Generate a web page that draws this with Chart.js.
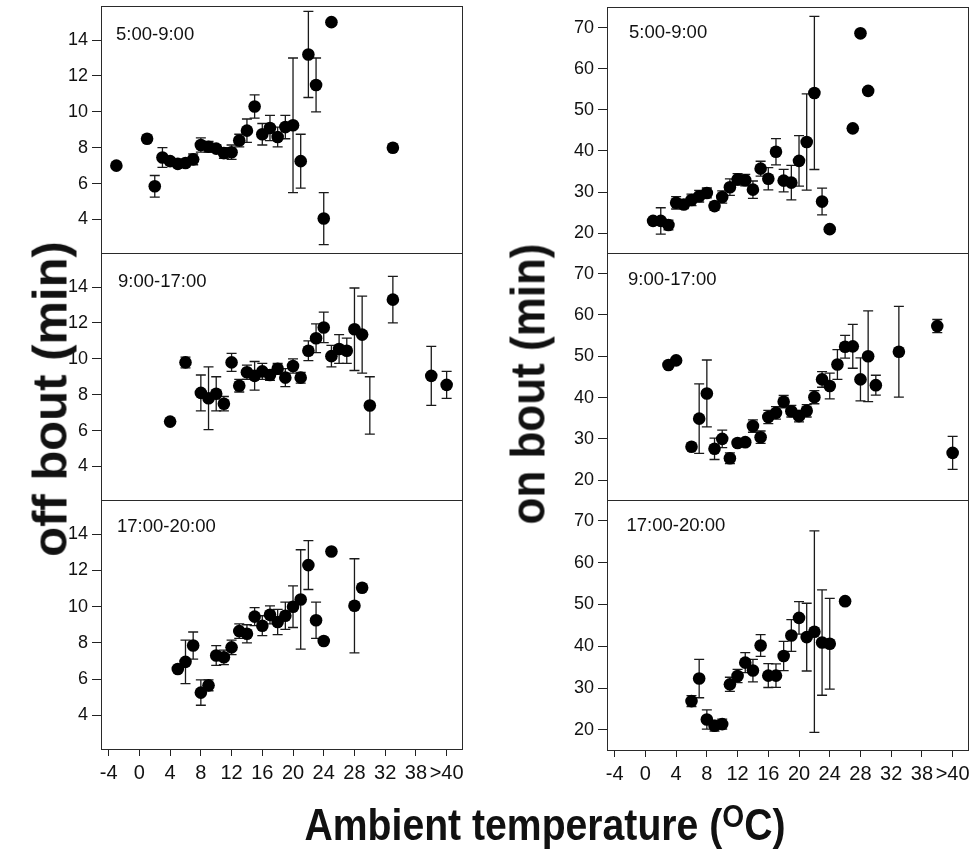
<!DOCTYPE html>
<html lang="en">
<head>
<meta charset="UTF-8">
<title>Off bout and on bout vs ambient temperature</title>
<style>
  body { margin: 0; background: #fff; }
  #wrap { position: relative; width: 979px; height: 854px; overflow: hidden; background: #fff; }
  canvas { position: absolute; }
  .ytitle {
    position: absolute;
    font-family: 'Liberation Sans', Arial, sans-serif;
    font-weight: bold;
    line-height: 1;
    white-space: nowrap;
    color: #111;
  }
  #offTitle { left: 50px; top: 399px; font-size: 49px; transform: translate(-50%, -50%) rotate(-90deg); }
  #onTitle { left: 528px; top: 384px; font-size: 44px; transform: translate(-50%, -50%) rotate(-90deg) scaleY(1.1); }
  #xTitle {
    position: absolute;
    left: 545px;
    top: 803px;
    transform: translateX(-50%) scaleX(0.89);
    font-family: 'Liberation Sans', Arial, sans-serif;
    font-weight: bold;
    font-size: 44px;
    line-height: 1;
    white-space: nowrap;
    color: #111;
  }
  #xTitle span { font-size: 0.72em; position: relative; top: -0.42em; }
</style>
</head>
<body>
<div id="wrap">
  <canvas id="offAM"></canvas>
  <canvas id="offMid"></canvas>
  <canvas id="offPM"></canvas>
  <canvas id="onAM"></canvas>
  <canvas id="onMid"></canvas>
  <canvas id="onPM"></canvas>
  <div id="offTitle" class="ytitle">off bout (min)</div>
  <div id="onTitle" class="ytitle">on bout (min)</div>
  <div id="xTitle">Ambient temperature (<span>O</span>C)</div>
</div>

<script src="https://cdn.jsdelivr.net/npm/chart.js@4.4.0/dist/chart.umd.min.js"></script>
<script>
// x axis: temperature positions and the labels printed under the ticks
const xTickValues = [-4, 0, 4, 8, 12, 16, 20, 24, 28, 32, 36, 40];
const xTickLabels = ['-4', '0', '4', '8', '12', '16', '20', '24', '28', '32', '38', '>40'];
const offTicks = [4, 6, 8, 10, 12, 14];
const onTicks = [20, 30, 40, 50, 60, 70];

// off bout, 5:00-9:00
const offAMTemp = [-3, 1, 2, 3, 4, 5, 6, 7, 8, 9, 10, 11, 12, 13, 14, 15, 16, 17, 18, 19, 20, 21, 22, 23, 24, 25, 33];
const offAMMean = [7.0, 8.5, 5.85, 7.45, 7.25, 7.1, 7.15, 7.35, 8.15, 8.05, 7.95, 7.7, 7.75, 8.4, 8.95, 10.3, 8.75, 9.1, 8.6, 9.15, 9.25, 7.25, 13.2, 11.5, 4.05, 15.0, 8.0];
const offAMErr  = [null, null, 0.6, 0.55, 0.2, 0.2, 0.2, 0.3, 0.4, 0.3, 0.2, 0.3, 0.4, 0.35, 0.65, 0.65, 0.6, 0.7, 0.55, 0.65, 3.75, 1.5, 2.4, 1.5, 1.45, null, null];

// off bout, 9:00-17:00
const offMidTemp = [4, 6, 8, 9, 10, 11, 12, 13, 14, 15, 16, 17, 18, 19, 20, 21, 22, 23, 24, 25, 26, 27, 28, 29, 30, 33, 38, 40];
const offMidMean = [6.5, 9.8, 8.1, 7.8, 8.05, 7.5, 9.8, 8.5, 9.25, 9.05, 9.3, 9.1, 9.45, 8.95, 9.6, 8.95, 10.45, 11.15, 11.75, 10.15, 10.55, 10.45, 11.65, 11.35, 7.4, 13.3, 9.05, 8.55];
const offMidErr  = [null, 0.3, 1.0, 1.75, 0.95, 0.4, 0.5, 0.35, 0.4, 0.8, 0.45, 0.3, 0.3, 0.5, 0.4, 0.3, 0.55, 0.8, 0.85, 0.6, 0.8, 0.7, 2.3, 2.15, 1.6, 1.3, 1.65, 0.75];

// off bout, 17:00-20:00
const offPMTemp = [5, 6, 7, 8, 9, 10, 11, 12, 13, 14, 15, 16, 17, 18, 19, 20, 21, 22, 23, 24, 25, 28, 29];
const offPMMean = [6.55, 6.95, 7.85, 5.25, 5.65, 7.3, 7.2, 7.75, 8.65, 8.5, 9.45, 8.95, 9.55, 9.15, 9.5, 10.0, 10.4, 12.3, 9.25, 8.1, 13.05, 10.05, 11.05];
const offPMErr  = [null, 1.2, 0.75, 0.7, 0.3, 0.55, 0.4, 0.4, 0.4, 0.5, 0.5, 0.55, 0.5, 0.7, 0.75, 1.15, 2.75, 1.35, 1.0, null, null, 2.6, null];

// on bout, 5:00-9:00
const onAMTemp = [1, 2, 3, 4, 5, 6, 7, 8, 9, 10, 11, 12, 13, 14, 15, 16, 17, 18, 19, 20, 21, 22, 23, 24, 27, 28, 29];
const onAMMean = [23.0, 23.0, 22.0, 27.4, 27.0, 28.1, 29.0, 29.8, 26.6, 28.8, 31.2, 33.1, 32.9, 30.6, 35.7, 33.25, 39.8, 32.8, 32.3, 37.6, 42.2, 54.1, 27.7, 21.0, 45.5, 68.6, 54.6];
const onAMErr  = [null, 3.2, 1.2, 1.5, 1.0, 1.4, 1.4, 1.2, 1.0, 1.5, 2.0, 1.4, 1.4, 2.1, 1.8, 2.7, 3.2, 2.75, 4.2, 6.15, 11.7, 18.6, 3.25, null, null, null, null];

// on bout, 9:00-17:00
const onMidTemp = [3, 4, 6, 7, 8, 9, 10, 11, 12, 13, 14, 15, 16, 17, 18, 19, 20, 21, 22, 23, 24, 25, 26, 27, 28, 29, 30, 33, 38, 40];
const onMidMean = [47.9, 49.0, 28.1, 34.9, 41.0, 27.6, 30.0, 25.3, 29.0, 29.2, 33.1, 30.4, 35.3, 36.3, 39.0, 36.7, 35.5, 36.8, 40.1, 44.4, 42.8, 48.0, 52.3, 52.4, 44.4, 50.0, 43.0, 51.1, 57.3, 26.6];
const onMidErr  = [null, null, null, 8.4, 8.1, 2.6, 2.1, 1.3, 0.8, 0.8, 1.5, 1.5, 1.6, 1.5, 1.5, 1.4, 1.4, 1.5, 1.6, 1.9, 3.1, 3.6, 2.75, 5.3, 5.2, 11.0, 2.4, 11.0, 1.6, 4.0];

// on bout, 17:00-20:00
const onPMTemp = [6, 7, 8, 9, 10, 11, 12, 13, 14, 15, 16, 17, 18, 19, 20, 21, 22, 23, 24, 26];
const onPMMean = [26.9, 32.3, 22.5, 21.0, 21.4, 30.9, 32.9, 36.1, 34.2, 40.2, 33.0, 33.0, 37.7, 42.6, 46.8, 42.2, 43.5, 40.9, 40.6, 50.8];
const onPMErr  = [1.3, 4.6, 2.3, 1.3, 1.2, 1.7, 1.6, 2.4, 2.7, 2.6, 2.85, 2.8, 3.5, 3.8, 3.9, 8.1, 24.1, 12.6, 10.85, null];

const PAD = 16, YW = 60, XH = 40;
const tickFont = "'Liberation Sans', Arial, sans-serif";

// vertical error bars, drawn under the dots
const errorBars = {
  id: 'errorBars',
  beforeDatasetsDraw(chart) {
    const ctx = chart.ctx, x = chart.scales.x, y = chart.scales.y;
    const ds = chart.data.datasets[0];
    ctx.save();
    ctx.strokeStyle = '#1a1a1a';
    ctx.lineWidth = 1.3;
    ds.data.forEach((p, i) => {
      const e = ds.errorValues[i];
      if (e == null) return;
      const px = x.getPixelForValue(p.x);
      const top = y.getPixelForValue(p.y + e);
      const bot = y.getPixelForValue(p.y - e);
      ctx.beginPath();
      ctx.moveTo(px, top); ctx.lineTo(px, bot);
      ctx.moveTo(px - 5, top); ctx.lineTo(px + 5, top);
      ctx.moveTo(px - 5, bot); ctx.lineTo(px + 5, bot);
      ctx.stroke();
    });
    ctx.restore();
  }
};

// box around the plot area + the time-of-day label
const panelFrame = {
  id: 'panelFrame',
  afterDraw(chart, args, opts) {
    const ctx = chart.ctx, a = chart.chartArea;
    ctx.save();
    ctx.strokeStyle = '#2a2a2a';
    ctx.lineWidth = 1;
    ctx.strokeRect(Math.round(a.left) + 0.5, Math.round(a.top) + 0.5,
                   Math.round(a.right - a.left), Math.round(a.bottom - a.top));
    ctx.fillStyle = '#111';
    ctx.font = "18.5px 'Liberation Sans', Arial, sans-serif";
    ctx.textBaseline = 'alphabetic';
    ctx.fillText(opts.text, a.left + opts.dx, a.top + opts.dy);
    ctx.restore();
  }
};

function makePanel(id, box, temps, means, errs, yTicks, yMin, yMax, label, dx, dy, showX) {
  const cv = document.getElementById(id);
  const w = YW + (box.r - box.l) + PAD;
  const h = PAD + (box.b - box.t) + PAD + (showX ? XH : 0);
  cv.width = w; cv.height = h;
  cv.style.left = (box.l - YW) + 'px';
  cv.style.top = (box.t - PAD) + 'px';
  cv.style.width = w + 'px';
  cv.style.height = h + 'px';

  return new Chart(cv, {
    type: 'scatter',
    data: {
      datasets: [{
        data: temps.map((t, i) => ({ x: t, y: means[i] })),
        errorValues: errs,
        backgroundColor: '#000',
        borderColor: '#000',
        borderWidth: 0,
        pointRadius: 6.3,
        clip: false
      }]
    },
    options: {
      responsive: false,
      maintainAspectRatio: false,
      animation: false,
      events: [],
      layout: { padding: { left: 0, top: PAD, right: PAD, bottom: PAD } },
      plugins: {
        legend: { display: false },
        tooltip: { enabled: false },
        panelFrame: { text: label, dx: dx, dy: dy }
      },
      scales: {
        x: {
          type: 'linear',
          min: -5, max: 42,
          display: showX,
          afterBuildTicks: s => { s.ticks = xTickValues.map(v => ({ value: v })); },
          afterFit: s => { s.height = showX ? XH : 0; },
          grid: { drawOnChartArea: false, drawTicks: true, tickLength: 7, color: '#222' },
          border: { display: false },
          ticks: {
            autoSkip: false, maxRotation: 0, padding: 5,
            color: '#111',
            font: { family: tickFont, size: 20 },
            callback: v => xTickLabels[xTickValues.indexOf(v)]
          }
        },
        y: {
          min: yMin, max: yMax,
          afterBuildTicks: s => { s.ticks = yTicks.map(v => ({ value: v })); },
          afterFit: s => { s.width = YW; },
          grid: { drawOnChartArea: false, drawTicks: true, tickLength: 9, color: '#222' },
          border: { display: false },
          ticks: { padding: 4, color: '#111', font: { family: tickFont, size: 18 } }
        }
      }
    },
    plugins: [errorBars, panelFrame]
  });
}

const leftCol = { l: 101, r: 462 };
const rightCol = { l: 607, r: 968 };

makePanel('offAM', { ...leftCol, t: 6, b: 253 }, offAMTemp, offAMMean, offAMErr, offTicks, 2.13, 15.9, '5:00-9:00', 15, 33.5, false);
makePanel('offMid', { ...leftCol, t: 253, b: 500 }, offMidTemp, offMidMean, offMidErr, offTicks, 2.13, 15.9, '9:00-17:00', 17, 34, false);
makePanel('offPM', { ...leftCol, t: 500, b: 749 }, offPMTemp, offPMMean, offPMErr, offTicks, 2.13, 15.9, '17:00-20:00', 16, 31.5, true);

makePanel('onAM', { ...rightCol, t: 7, b: 253 }, onAMTemp, onAMMean, onAMErr, onTicks, 15.2, 75, '5:00-9:00', 22, 30.5, false);
makePanel('onMid', { ...rightCol, t: 253, b: 500 }, onMidTemp, onMidMean, onMidErr, onTicks, 15.2, 75, '9:00-17:00', 21, 31.5, false);
makePanel('onPM', { ...rightCol, t: 500, b: 750 }, onPMTemp, onPMMean, onPMErr, onTicks, 15.2, 75, '17:00-20:00', 19.5, 31, true);
</script>
</body>
</html>
